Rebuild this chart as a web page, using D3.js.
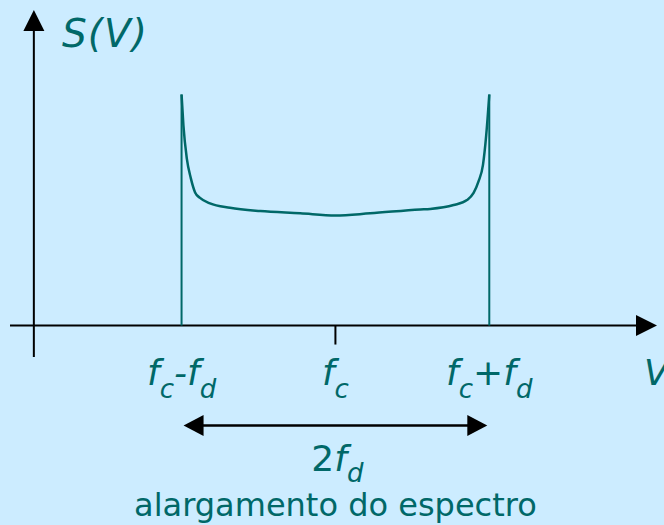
<!DOCTYPE html>
<html lang="pt">
<head>
  <meta charset="UTF-8" />
  <title>S(v) – alargamento do espectro</title>
  <script src="https://cdn.jsdelivr.net/npm/d3@7/dist/d3.min.js"></script>
  <style>
    html, body { margin: 0; padding: 0; background: #CCECFF; }
    svg { display: block; font-family: "DejaVu Sans", Verdana, sans-serif; }
  </style>
</head>
<body>
  <div id="chart"></div>
  <script>
    // frequency offset from fc, in units of fd
    const freqOffset = [-1, -0.988, -0.966, -0.94, -0.912, -0.88, -0.815, -0.685, -0.489, -0.229, 0,
                        0.226, 0.551, 0.616, 0.768, 0.855, 0.898, 0.93, 0.959, 0.98, 1];
    // spectrum S(v), normalised to 1 at fc
    const spectrum   = [2.10, 1.82, 1.52, 1.34, 1.21, 1.16, 1.11, 1.07, 1.04, 1.02, 1.00,
                        1.02, 1.055, 1.06, 1.095, 1.14, 1.205, 1.31, 1.46, 1.73, 2.10];
    const edgeLevel = 2.10;
    const tickOffsets = [-1, 0, 1];
    const tickLabels = [["f", "c", "-f", "d"], ["f", "c"], ["f", "c", "+f", "d"]];

    const width = 664, height = 525;
    const teal = "#006868";
    const mainSize = 36, subSize = 26, subShift = 13;

    const svg = d3.select("#chart").append("svg")
      .attr("width", width).attr("height", height);

    svg.append("rect").attr("width", width).attr("height", height).attr("fill", "#CCECFF");

    const x = d3.scaleLinear().domain([-2.115, 2.09]).range([10, 657]);
    const y = d3.scaleLinear().domain([-0.286, 2.868]).range([357, 10]);

    const x0 = x.domain()[0], x1 = x.domain()[1];
    const yAxisAt = -1.96;   // where the vertical axis crosses

    // axes
    svg.append("line")
      .attr("x1", x(x0)).attr("x2", x(x1) - 20)
      .attr("y1", y(0)).attr("y2", y(0))
      .attr("stroke", "#000").attr("stroke-width", 2);
    svg.append("path")
      .attr("d", `M${x(x1)},${y(0)} L${x(x1) - 21},${y(0) - 10.5} L${x(x1) - 21},${y(0) + 10.5} Z`)
      .attr("fill", "#000");

    svg.append("line")
      .attr("x1", x(yAxisAt)).attr("x2", x(yAxisAt))
      .attr("y1", y(y.domain()[0])).attr("y2", y(y.domain()[1]) + 20)
      .attr("stroke", "#000").attr("stroke-width", 2);
    svg.append("path")
      .attr("d", `M${x(yAxisAt)},${y(y.domain()[1])} L${x(yAxisAt) - 10.5},${y(y.domain()[1]) + 21} L${x(yAxisAt) + 10.5},${y(y.domain()[1]) + 21} Z`)
      .attr("fill", "#000");

    // tick at fc
    svg.append("line")
      .attr("x1", x(0)).attr("x2", x(0))
      .attr("y1", y(0)).attr("y2", y(0) + 19)
      .attr("stroke", "#000").attr("stroke-width", 2);

    // band edges
    svg.selectAll("line.edge")
      .data([-1, 1])
      .enter().append("line")
      .attr("class", "edge")
      .attr("x1", d => x(d)).attr("x2", d => x(d))
      .attr("y1", y(0)).attr("y2", y(edgeLevel))
      .attr("stroke", teal).attr("stroke-width", 2);

    // spectrum curve
    const line = d3.line()
      .x(d => x(d[0]))
      .y(d => y(d[1]))
      .curve(d3.curveMonotoneX);

    svg.append("path")
      .datum(d3.zip(freqOffset, spectrum))
      .attr("d", line)
      .attr("fill", "none")
      .attr("stroke", teal)
      .attr("stroke-width", 2.5);

    // tick labels with subscripts
    const labelBase = 385;
    tickLabels.forEach((parts, i) => {
      const t = svg.append("text")
        .attr("x", x(tickOffsets[i]))
        .attr("y", labelBase)
        .attr("text-anchor", "middle")
        .attr("fill", teal)
        .attr("font-style", "italic")
        .attr("font-size", mainSize);
      parts.forEach((p, j) => {
        const sub = j % 2 === 1;
        t.append("tspan")
          .attr("font-size", sub ? subSize : mainSize)
          .attr("dy", j === 0 ? 0 : (sub ? subShift : -subShift))
          .text(p);
      });
    });

    // axis names
    svg.append("text")
      .attr("x", x(x1) - 13).attr("y", labelBase)
      .attr("fill", teal).attr("font-style", "italic").attr("font-size", mainSize)
      .text("V");

    svg.append("text")
      .attr("x", 62).attr("y", 47)
      .attr("fill", teal).attr("font-style", "italic").attr("font-size", 39)
      .attr("letter-spacing", 1)
      .text("S(V)");

    // bandwidth arrow
    const arrowY = 425.5;
    const ax0 = x(-1) + 2, ax1 = x(1) - 2;
    svg.append("line")
      .attr("x1", ax0 + 19).attr("x2", ax1 - 19)
      .attr("y1", arrowY).attr("y2", arrowY)
      .attr("stroke", "#000").attr("stroke-width", 2.5);
    svg.append("path")
      .attr("d", `M${ax0},${arrowY} L${ax0 + 20},${arrowY - 10.5} L${ax0 + 20},${arrowY + 10.5} Z`)
      .attr("fill", "#000");
    svg.append("path")
      .attr("d", `M${ax1},${arrowY} L${ax1 - 20},${arrowY - 10.5} L${ax1 - 20},${arrowY + 10.5} Z`)
      .attr("fill", "#000");

    const bw = svg.append("text")
      .attr("x", x(0) + 2).attr("y", 471)
      .attr("text-anchor", "middle")
      .attr("fill", teal).attr("font-size", mainSize);
    bw.append("tspan").text("2");
    bw.append("tspan").attr("font-style", "italic").text("f");
    bw.append("tspan").attr("font-style", "italic").attr("font-size", subSize).attr("dy", 11).text("d");

    svg.append("text")
      .attr("x", x(0)).attr("y", 516)
      .attr("text-anchor", "middle")
      .attr("fill", teal).attr("font-size", 32)
      .text("alargamento do espectro");
  </script>
</body>
</html>
